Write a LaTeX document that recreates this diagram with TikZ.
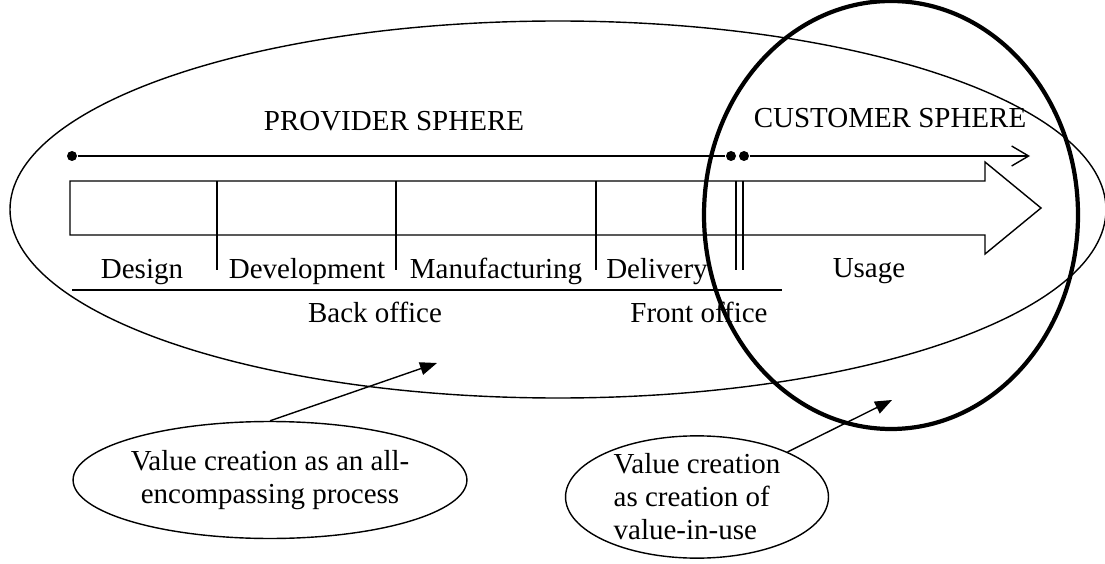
\documentclass[tikz,border=0pt]{standalone}
\usepackage{fontspec}
\setmainfont{Liberation Serif}
\usetikzlibrary{arrows.meta, positioning, shapes}

\begin{document}
\begin{tikzpicture}[x=0.02cm, y=-0.02cm, line width=0.8pt,
        every node/.style={font=\fontsize{16.5}{18.8}\selectfont},
        lbl/.style={anchor=base, inner sep=0pt},
        dot/.style={circle, fill, inner sep=0pt, minimum size=0.2cm},
        bubble/.style={draw, ellipse, inner sep=0pt}]
        \useasboundingbox (0,0) rectangle (1105,564);

        % spheres
        \draw (558,209.5) ellipse [x radius=548, y radius=188.5];
        \draw[line width=2.4pt] (891,215) ellipse [x radius=187, y radius=214];

        \node[lbl] (prov) at (394,131) {PROVIDER SPHERE};
        \node[lbl] (cust) at (890,128) {CUSTOMER SPHERE};

        % time line
        \node[dot] (t0) at (72,156) {};
        \node[dot] (t1) at (731,156) {};
        \node[dot] (t2) at (744,156) {};
        \coordinate (t3) at (1030,156);
        \draw (t0) -- (t1);
        \draw[-{Straight Barb[length=0.34cm, width=0.4cm]}] (t2) -- (t3);

        % process arrow
        \draw (70,181) -- (985,181) -- (985,162) -- (1041,208) -- (985,254) -- (985,235) -- (70,235) -- cycle;
        \foreach \x in {217,396,596,736,743}
            \draw (\x,181) -- (\x,270);
        \draw (72,290) -- (782,290);

        \node[lbl] (design) at (142,278) {Design};
        \node[lbl] (devel) at (307,278) {Development};
        \node[lbl] (manuf) at (496,278) {Manufacturing};
        \node[lbl] (deliv) at (657,278) {Delivery};
        \node[lbl] (usage) at (869,277) {Usage};
        \node[lbl] (back) at (375,322) {Back office};
        \node[lbl] (front) at (699,322) {Front office};

        % value creation
        \node[bubble, align=center, minimum height=2.34cm] (vcL) at (270,480) {Value creation as an all-\\encompassing process};
        \node[bubble, align=left, minimum width=5.26cm] (vcR) at (697,497) {Value creation\\as creation of\\value-in-use};

        \coordinate (pTip) at (437,363);
        \coordinate (cTip) at (892,400);
        \draw[-{Triangle[length=0.34cm, width=0.26cm]}] (vcL.north) -- (pTip);
        \draw[-{Triangle[length=0.34cm, width=0.26cm]}] (vcR) -- (cTip);
    \end{tikzpicture}
\end{document}
